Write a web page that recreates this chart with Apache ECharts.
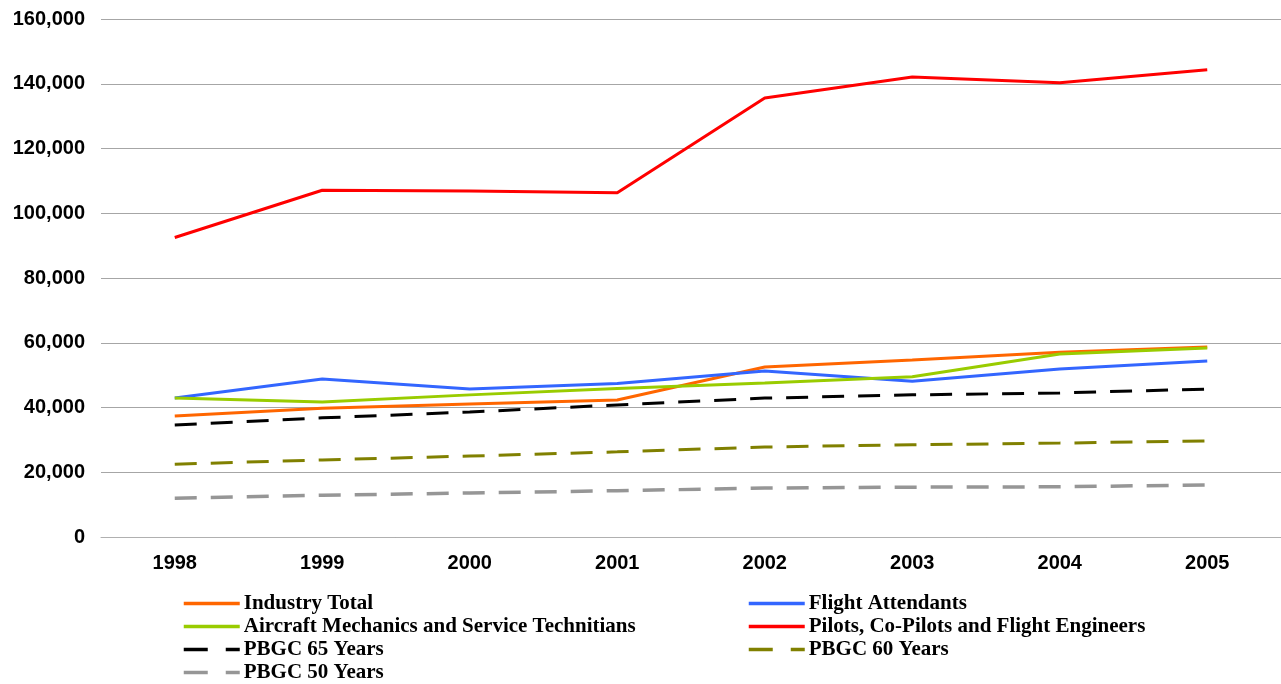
<!DOCTYPE html>
<html>
<head>
<meta charset="utf-8">
<script src="https://cdn.jsdelivr.net/npm/echarts@6/dist/echarts.min.js"></script>
<style>
html,body{margin:0;padding:0;background:#fff;}
#chart{width:1281px;height:684px;}
</style>
</head>
<body>
<div id="chart"></div>
<script>
const years = ['1998','1999','2000','2001','2002','2003','2004','2005'];
const industryTotal = [37400, 39800, 41100, 42300, 52500, 54700, 57100, 58700];
const flightAttendants = [42900, 48800, 45700, 47400, 51300, 48100, 51900, 54400];
const mechanics = [42900, 41700, 43900, 45900, 47600, 49500, 56500, 58400];
const pilots = [92500, 107100, 106900, 106300, 135600, 142100, 140300, 144300];
const pbgc65 = [34600, 36800, 38600, 40800, 42900, 43900, 44500, 45700];
const pbgc60 = [22500, 23800, 25000, 26300, 27800, 28500, 29000, 29700];
const pbgc50 = [12000, 12900, 13600, 14300, 15100, 15400, 15500, 16100];

const seriesDefs = [
  {name:'Industry Total', data:industryTotal, color:'#FF6600', dash:'solid', w:3},
  {name:'Flight Attendants', data:flightAttendants, color:'#3366FF', dash:'solid', w:3},
  {name:'Aircraft Mechanics and Service Technitians', data:mechanics, color:'#99CC00', dash:'solid', w:3},
  {name:'Pilots, Co-Pilots and Flight Engineers', data:pilots, color:'#FF0000', dash:'solid', w:3},
  {name:'PBGC 65 Years', data:pbgc65, color:'#000000', dash:[22,14], w:3},
  {name:'PBGC 60 Years', data:pbgc60, color:'#808000', dash:[22,14], w:3},
  {name:'PBGC 50 Years', data:pbgc50, color:'#969696', dash:[22,14], w:3.5}
];
const legendPos = [
  [182,593],[747,593],
  [182,616],[747,616],
  [182,639],[747,639],
  [182,662]
];

const chart = echarts.init(document.getElementById('chart'));
chart.setOption({
  animation:false,
  backgroundColor:'#fff',
  grid:{left:101, right:0, top:19, bottom:147, containLabel:false},
  xAxis:{
    type:'category', data:years, boundaryGap:true,
    axisLine:{show:true, lineStyle:{color:'#b0b0b0', width:1}},
    axisTick:{show:false},
    axisLabel:{margin:16, color:'#000', fontFamily:'Liberation Sans, Arial', fontWeight:'bold', fontSize:20}
  },
  yAxis:{
    type:'value', min:0, max:160000, interval:20000,
    axisLine:{show:false}, axisTick:{show:false},
    splitLine:{lineStyle:{color:'#a6a6a6', width:1}},
    axisLabel:{margin:16, color:'#000', fontFamily:'Liberation Sans, Arial', fontWeight:'bold', fontSize:20,
      formatter:v=>v.toLocaleString('en-US')}
  },
  legend: seriesDefs.map((s,i)=>({
    data:[s.name], left:legendPos[i][0], top:legendPos[i][1],
    itemWidth:56, itemHeight:20, itemGap:4, padding:0,
    itemStyle:{opacity:0},
    lineStyle:{width:3.5, type: s.dash==='solid' ? 'solid' : [24,18]},
    textStyle:{fontFamily:'Liberation Serif, Times New Roman', fontWeight:'bold', fontSize:21, color:'#000', padding:[0,0,0,-1]}
  })),
  series: seriesDefs.map(s=>({
    name:s.name, type:'line', data:s.data, symbol:'none', color:s.color,
    lineStyle:{color:s.color, width:s.w, type:s.dash},
    z: s.dash==='solid'?3:2
  }))
});
</script>
</body>
</html>
